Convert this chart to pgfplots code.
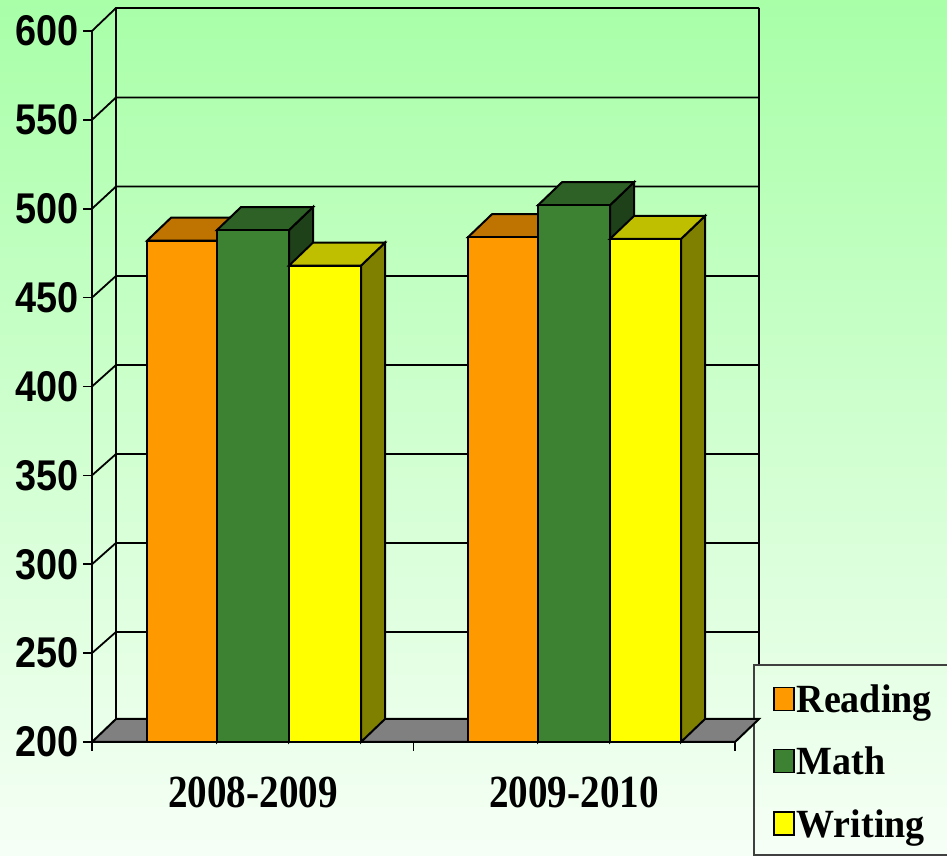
\documentclass[border=0pt]{standalone}
\usepackage{fontspec}
\usepackage{pgfplots}
\pgfplotsset{compat=1.18}
\newfontfamily\tickf{Liberation Sans}[FakeStretch=0.88]
\newfontfamily\catf{Liberation Serif}[FakeStretch=0.85]
\newfontfamily\legf{Liberation Serif}[FakeStretch=0.95]
\definecolor{bgtop}{RGB}{168,255,168}
\definecolor{bgbot}{RGB}{246,255,246}
\definecolor{oF}{RGB}{255,153,0}
\definecolor{oT}{RGB}{191,115,0}
\definecolor{gF}{RGB}{60,130,50}
\definecolor{gT}{RGB}{45,97,37}
\definecolor{gS}{RGB}{30,65,25}
\definecolor{yF}{RGB}{255,255,0}
\definecolor{yT}{RGB}{191,191,0}
\definecolor{yS}{RGB}{128,128,0}
\definecolor{oS}{RGB}{128,77,0}
% front-plane x extents are in chart units (front axis runs 92 to 735)
\newcommand{\threedbar}[6]{%
  \pgfmathsetmacro{\xa}{#1}\pgfmathsetmacro{\xb}{#2}\pgfmathsetmacro{\v}{#3}%
  \pgfmathsetmacro{\xc}{#1+24}\pgfmathsetmacro{\xd}{#2+24}\pgfmathsetmacro{\w}{#3+12.94}%
  \edef\temp{\noexpand\addplot[forget plot,draw=black,line width=2pt,line join=miter,fill=#6] coordinates {(\xb,200) (\xd,212.94) (\xd,\w) (\xb,\v)} --cycle;
  \noexpand\addplot[forget plot,draw=black,line width=2pt,line join=miter,fill=#5] coordinates {(\xa,\v) (\xc,\w) (\xd,\w) (\xb,\v)} --cycle;
  \noexpand\addplot[forget plot,draw=black,line width=2pt,line join=miter,fill=#4] coordinates {(\xa,200) (\xb,200) (\xb,\v) (\xa,\v)} --cycle;}%
  \temp}
% tick value on the front plane, its level on the back wall
\newcommand{\wallgrid}[2]{%
  \addplot[forget plot,black,line width=1.8pt] coordinates {(92,#1) (116,#2) (759,#2)};}
\begin{document}
\begin{tikzpicture}
\useasboundingbox (0,0) rectangle (947pt,856pt);
\shade[top color=bgtop,bottom color=bgbot] (0,0) rectangle (947pt,856pt);
\begin{axis}[
  at={(92pt,114pt)},anchor=south west,
  scale only axis,width=643pt,height=711pt,
  xmin=92,xmax=735,ymin=200,ymax=600,
  clip=false,axis on top,
  axis x line*=bottom,axis y line*=left,
  axis line style={black,line width=1.8pt,-},
  tick style={black,line width=1.6pt},
  tick align=outside,major tick length=9pt,
  xtick={92,413.5,735},xticklabels={},
  extra x ticks={253,574},
  extra x tick labels={2008-2009,2009-2010},
  extra x tick style={major tick length=0pt,
    xticklabel style={font=\catf\bfseries\fontsize{46}{50}\selectfont,yshift=-31pt}},
  ytick={200,250,300,350,400,450,500,550,600},
  yticklabel style={font=\tickf\bfseries\fontsize{43}{47}\selectfont,xshift=-1pt},
  /pgf/number format/assume math mode=true,
  legend style={at={(axis cs:773,233.4)},anchor=north west,draw=none,fill=none,
    font=\legf\bfseries\fontsize{40}{43}\selectfont,row sep=29pt,
    /tikz/every even column/.style={column sep=11pt},inner sep=0pt},
  legend cell align=left,
  legend image code/.code={\draw[#1] (0pt,-11pt) rectangle (20pt,12pt);},
]
\addlegendimage{draw=black,line width=1.4pt,fill=oF}\addlegendentry{Reading}
\addlegendimage{draw=black,line width=1.4pt,fill=gF}\addlegendentry{Math}
\addlegendimage{draw=black,line width=1.4pt,fill=yF}\addlegendentry{Writing}
% walls
\wallgrid{250}{261.9}\wallgrid{300}{312}\wallgrid{350}{362}\wallgrid{400}{412.1}
\wallgrid{450}{462.2}\wallgrid{500}{512.5}\wallgrid{550}{562.6}\wallgrid{600}{612.94}
\addplot[forget plot,black,line width=1.8pt] coordinates {(116,212.94) (116,612.94)};
\addplot[forget plot,black,line width=1.8pt] coordinates {(759,243.3) (759,612.94)};
% legend frame
\addplot[forget plot,draw=black!75,line width=1.6pt] coordinates {(948,243.3) (754,243.3) (754,136.4) (948,136.4)};
% floor
\addplot[forget plot,draw=black,line width=2pt,fill=black!50] coordinates {(92,200) (735,200) (759,212.94) (116,212.94)} --cycle;
% bars: left, right, value, front, top, side
\threedbar{147}{217}{482}{oF}{oT}{oS}
\threedbar{217}{289}{488}{gF}{gT}{gS}
\threedbar{289}{361}{468}{yF}{yT}{yS}
\threedbar{468}{538}{484}{oF}{oT}{oS}
\threedbar{538}{610}{502}{gF}{gT}{gS}
\threedbar{610}{681}{483}{yF}{yT}{yS}
\end{axis}
\end{tikzpicture}
\end{document}
